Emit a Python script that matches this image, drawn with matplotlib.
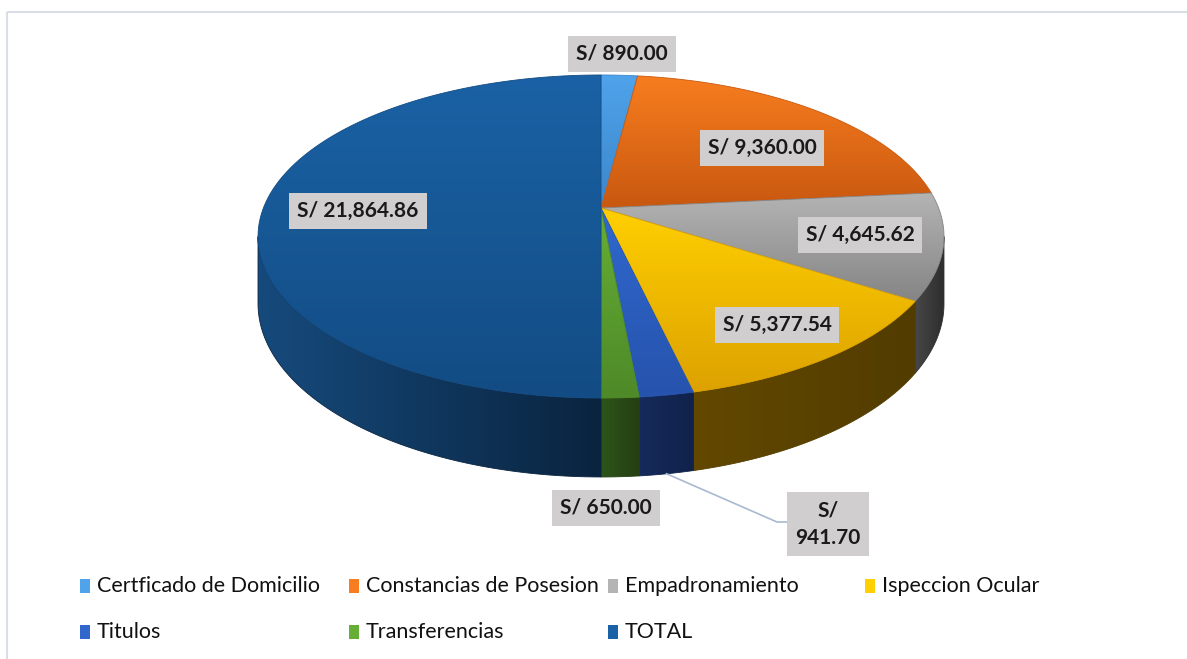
import numpy as np
import matplotlib.pyplot as plt
from matplotlib.patches import Polygon, Rectangle
from matplotlib.colors import to_rgb

# -----------------------------
# Datos
# -----------------------------
categorias = ['Certficado de Domicilio', 'Constancias de Posesion', 'Empadronamiento',
              'Ispeccion Ocular', 'Titulos', 'Transferencias', 'TOTAL']
montos = [890.00, 9360.00, 4645.62, 5377.54, 941.70, 650.00, 21864.86]

# colores (arriba, abajo) de la cara superior y del costado
col_top = [('#4FA3EA', '#3B86CB'), ('#F77D1E', '#C95810'), ('#B4B4B4', '#858585'),
           ('#FFCF00', '#DDA200'), ('#3068CE', '#2653AD'), ('#66AE36', '#4E8A28'),
           ('#1A62A5', '#134C84')]
col_side = [('#2A5F90', '#1E4A70'), ('#7A3A08', '#5E2C05'), ('#474747', '#2E2E2E'),
            ('#624800', '#523C00'), ('#162B5C', '#10224A'), ('#2E5419', '#253F14'),
            ('#164A7C', '#0A243F')]

# -----------------------------
# Geometria de la torta 3D (perspectiva)
# -----------------------------
CX, CY = 601, 208
R, S, K, D = 337.6, 156.5, 0.1765, 65


def proj(theta, f=1.0, dz=0.0):
    t = np.radians(theta)
    u, v = f * np.sin(t), f * np.cos(t)
    w = 1 + K * v
    return CX + R * u / w, CY - S * v / w + D * dz / w


def gradient_fill(ax, verts, c1, c2, vertical=True, zorder=1):
    verts = np.asarray(verts)
    poly = Polygon(verts, closed=True, fc='none', ec='none')
    ax.add_patch(poly)
    a, b = np.array(to_rgb(c1)), np.array(to_rgb(c2))
    n = np.linspace(0, 1, 64)[:, None]
    g = a + (b - a) * n
    img = g[:, None, :] if vertical else g[None, :, :]
    x0, y0 = verts.min(axis=0)
    x1, y1 = verts.max(axis=0)
    im = ax.imshow(img, extent=(x0, x1, y1, y0), origin='upper', aspect='auto',
                   interpolation='bilinear', zorder=zorder)
    im.set_clip_path(poly)
    # borde suave para cerrar juntas
    ax.add_patch(Polygon(verts, closed=True, fc='none', ec=c2, lw=0.6, zorder=zorder))


fig = plt.figure(figsize=(11.87, 6.59), dpi=100)
ax = fig.add_axes([0, 0, 1, 1])

total = sum(montos)
angulos = np.cumsum([0] + [m / total * 360 for m in montos])
vis_a = np.degrees(np.arccos(-K))
vis_b = 360 - vis_a

# costados visibles
for i in range(len(montos)):
    a1, a2 = max(angulos[i], vis_a), min(angulos[i + 1], vis_b)
    if a2 <= a1:
        continue
    th = np.linspace(a1, a2, 80)
    top = np.array([proj(t) for t in th])
    bot = np.array([proj(t, dz=1) for t in th])[::-1]
    c1, c2 = col_side[i]
    gradient_fill(ax, np.vstack([top, bot]), c1, c2, vertical=False, zorder=1)

# caras superiores
for i in range(len(montos)):
    th = np.linspace(angulos[i], angulos[i + 1], 120)
    rim = np.array([proj(t) for t in th])
    verts = np.vstack([[CX, CY], rim])
    c1, c2 = col_top[i]
    gradient_fill(ax, verts, c1, c2, vertical=True, zorder=2)

# -----------------------------
# Etiquetas
# -----------------------------
etiquetas = [f'S/ {m:,.2f}' for m in montos]
etiquetas[4] = 'S/\n{:,.2f}'.format(montos[4])
pos_etq = [(622, 54), (762, 148), (860, 235), (777, 325), (828, 524), (606, 508), (358, 211)]

# linea guia de Titulos
mid_t = (angulos[4] + angulos[5]) / 2
x0, y0 = proj(mid_t, dz=1)
ax.plot([x0, 777, 788], [y0, 522, 522], color='#A9B9CF', lw=1.2, zorder=3)

for txt, (x, y) in zip(etiquetas, pos_etq):
    ax.text(x, y, txt, ha='center', va='center', fontsize=15, fontweight='bold',
            family='Lato', color='#1a1a1a', linespacing=1.45, zorder=5,
            bbox=dict(boxstyle='square,pad=0.38', fc='#D0CECE', ec='none'))

# -----------------------------
# Leyenda
# -----------------------------
col_x = [80, 349, 608, 865]
fila_y = [586, 632]
for i, nombre in enumerate(categorias):
    x = col_x[i % 4]
    y = fila_y[i // 4]
    ax.add_patch(Rectangle((x, y - 7), 10, 14, fc=col_top[i][0], ec='none', zorder=4))
    ax.text(x + 17, y, nombre, ha='left', va='center', fontsize=15.5,
            family='Lato', color='#111111', zorder=4)

# marco del grafico
ax.add_patch(Rectangle((7, 12), 1300, 700, fc='none', ec='#D9DEE6', lw=1.5, zorder=0))

ax.set_xlim(0, 1187)
ax.set_ylim(659, 0)
ax.axis('off')
fig.savefig('out.png', dpi=100)
